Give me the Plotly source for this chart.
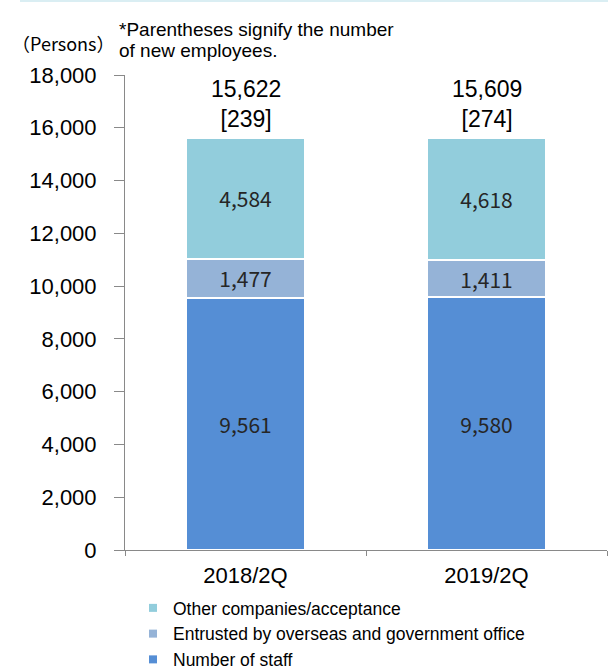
import plotly.graph_objects as go

# Headcount by category (persons)
periods = ["2018/2Q", "2019/2Q"]
staff = [9561, 9580]
entrusted = [1477, 1411]
other = [4584, 4618]
totals = [15622, 15609]
new_employees = [239, 274]

series_names = [
    "Number of staff",
    "Entrusted by overseas and government office",
    "Other companies/acceptance",
]
series_values = [staff, entrusted, other]
series_colors = ["#558ED5", "#95B3D7", "#92CDDC"]

BASE_FONT = "Liberation Sans, Arial, Noto Sans CJK JP"

# plot area in pixels (figure is 608 x 670)
L, R, T, B = 125, 1, 75, 120
PW, PH = 608 - L - R, 670 - T - B


def px_x(x):
    return (x - L) / PW


def px_y(y):
    return (670 - B - y) / PH


fig = go.Figure()

for name, vals, color in zip(series_names, series_values, series_colors):
    fig.add_trace(go.Bar(
        x=periods, y=vals, name=name,
        marker=dict(color=color, line=dict(color="white", width=2)),
        width=0.49,
        text=[f"{v:,}" for v in vals],
        texttemplate="%{text}",
        textposition="inside",
        insidetextanchor="middle",
        textangle=0,
        textfont=dict(family="Noto Sans CJK JP", size=21, color="#262626"),
        showlegend=False,
        hoverinfo="x+y+name",
    ))
    # small square legend entries
    fig.add_trace(go.Scatter(
        x=[None], y=[None], mode="markers", name=name,
        marker=dict(symbol="square", size=8, color=color),
        showlegend=True,
    ))

# totals with new-employee counts above each stack
for p, t, n in zip(periods, totals, new_employees):
    fig.add_annotation(
        x=p, y=t, xref="x", yref="y",
        text=f"{t:,}<br>[{n}]",
        showarrow=False, yanchor="bottom", yshift=4,
        font=dict(family=BASE_FONT, size=23, color="#000000"),
    )

fig.add_annotation(
    x=px_x(117), y=px_y(43), xref="paper", yref="paper",
    text="（Persons）", showarrow=False, xanchor="right", yanchor="middle",
    font=dict(family="Noto Sans CJK JP, Liberation Sans", size=18, color="#000000"),
)

note_lines = ["*Parentheses signify the number", "of new employees."]
for line, ypx in zip(note_lines, [29, 50]):
    fig.add_annotation(
        x=px_x(117), y=px_y(ypx), xref="paper", yref="paper",
        text=line, showarrow=False, xanchor="left", yanchor="middle", align="left",
        font=dict(family=BASE_FONT, size=19, color="#000000"),
    )

# thin rule along the top edge
fig.add_shape(
    type="line", xref="paper", yref="paper",
    x0=px_x(20), x1=px_x(612), y0=px_y(1), y1=px_y(1),
    line=dict(color="#DAEEF3", width=2),
)

fig.update_layout(
    width=608, height=670,
    margin=dict(l=L, r=R, t=T, b=B),
    paper_bgcolor="white", plot_bgcolor="white",
    barmode="stack",
    font=dict(family=BASE_FONT, color="#000000"),
    legend=dict(
        traceorder="reversed",
        orientation="v",
        x=px_x(133), xanchor="left",
        yref="container",
        y=1 - 590 / 670, yanchor="top",
        font=dict(family=BASE_FONT, size=17.5, color="#000000"),
        itemwidth=30,
        tracegroupgap=0,
        bgcolor="rgba(0,0,0,0)",
    ),
    xaxis=dict(
        type="category",
        showline=True, linecolor="#898989", linewidth=1,
        ticks="outside", tickson="boundaries", ticklen=5, tickcolor="#898989",
        tickfont=dict(size=22),
        ticklabelstandoff=6,
        showgrid=False,
    ),
    yaxis=dict(
        range=[0, 18000], dtick=2000, tickformat=",",
        showline=True, linecolor="#898989", linewidth=1,
        ticks="outside", ticklen=10, tickcolor="#898989",
        tickfont=dict(size=22),
        ticklabelstandoff=13,
        showgrid=False, zeroline=False,
    ),
)

fig.write_html("out.html")
